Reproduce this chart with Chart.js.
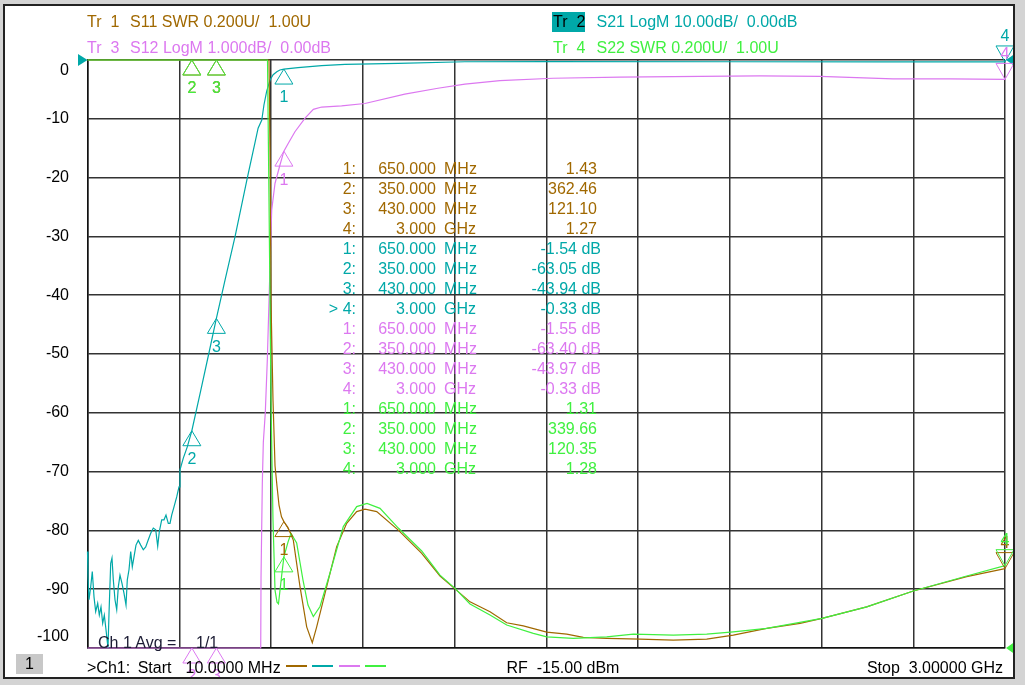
<!DOCTYPE html>
<html><head><meta charset="utf-8">
<script src="https://cdn.jsdelivr.net/npm/chart.js@4.4.0/dist/chart.umd.min.js"></script>
<style>
html,body{margin:0;padding:0;background:#d4d4d4;width:1025px;height:685px;overflow:hidden;font-family:"Liberation Sans",Arial,sans-serif;}
#panel{position:absolute;left:3px;top:4px;width:1012px;height:675px;box-sizing:border-box;border:2px solid #222;background:#fff;overflow:hidden;}
#c{position:absolute;left:-5px;top:-6px;}
#layer{position:absolute;left:-5px;top:-6px;width:1025px;height:685px;}
.t{position:absolute;white-space:pre;font-size:16px;line-height:20px;}
</style></head>
<body>
<div id="panel"><canvas id="c" width="1025" height="685"></canvas><div id="layer"></div></div>
<script>
// ---- axes ----
const freqGrid = [10, 309, 608, 907, 1206, 1505, 1804, 2103, 2402, 2701, 3000];
const s21Ticks = [0, -10, -20, -30, -40, -50, -60, -70, -80, -90, -100];

// ---- S21 (LogM 10 dB/div, ref 0 dB at top) ----
const s21Freq = [10, 11.6, 14.9, 20.4, 25.6, 31.2, 36.7, 43.2, 48.5, 54, 59.5, 64.8, 70.3, 76.8, 80.1, 85.6, 89.8, 94.1, 99.6, 105.2, 110.4, 115.9, 122.4, 129, 135.5, 139.7, 145.2, 150.8, 156, 161.5, 168, 175.5, 183.4, 191.8, 199.7, 208.1, 216, 224.4, 232.3, 238.8, 244, 251.8, 259.3, 265.8, 273.3, 278.9, 284.4, 291.9, 300.7, 308.2, 311.4, 322.2, 335.2, 350, 377, 405, 430, 460, 491, 531, 556, 566, 578, 585, 594, 605, 615, 627, 637, 650, 696, 773, 849, 1022, 1240, 1507, 2104, 2600, 3000];
const s21Val = [-83.6, -87.9, -91.8, -89.6, -87.0, -91.3, -93.8, -92.4, -94.4, -93.0, -95.8, -94.4, -96.9, -100, -94.1, -85.6, -84.7, -88.4, -91.8, -93.5, -89.6, -87.6, -89.0, -90.7, -92.7, -88.4, -86.7, -83.6, -86.2, -84.5, -82.5, -81.7, -82.5, -83.3, -82.8, -81.6, -80.5, -79.6, -79.9, -82.7, -80.2, -78.2, -78.2, -77.4, -78.8, -78.8, -77.4, -76.0, -74.3, -72.6, -69.7, -67.7, -65.8, -63.05, -56.7, -50.0, -43.94, -37.0, -30.0, -20.0, -14.0, -11.6, -10.2, -7.65, -5.3, -3.4, -2.5, -2.0, -1.7, -1.54, -1.3, -0.97, -0.74, -0.57, -0.30, -0.29, -0.30, -0.31, -0.33];

// ---- S12 (LogM 1 dB/div, ref 0 dB at top) ----
const s12Freq = [10, 100, 200, 300, 350, 430, 500, 550, 570, 574.5, 575.5, 579.7, 583, 589.4, 596, 604.8, 610.3, 621, 637, 650, 664, 686, 719, 746, 773, 838, 914, 1044, 1152, 1240, 1354, 1527, 1745, 2006, 2201, 2397, 2635, 2821, 3000];
const s12Val = [-90, -86, -80, -70, -63.40, -43.97, -28, -17, -12, -10.4, -8.8, -7.2, -6.5, -6.0, -5.1, -3.5, -2.55, -2.1, -1.79, -1.55, -1.42, -1.22, -0.99, -0.84, -0.80, -0.78, -0.74, -0.58, -0.48, -0.41, -0.35, -0.31, -0.29, -0.28, -0.27, -0.28, -0.32, -0.32, -0.33];

// ---- S11 (SWR 0.2 U/div, ref 1.00 U at bottom) ----
const s11Freq = [10, 100, 200, 300, 350, 430, 500, 560, 590, 598, 601.5, 604.8, 608, 614.6, 621.1, 627.6, 634.1, 642.2, 650, 663.4, 680.7, 702.5, 724.3, 742.6, 756.9, 789.5, 822.1, 854.7, 887.3, 914.3, 952.5, 1022.9, 1099.1, 1158.8, 1207.6, 1256.5, 1321.7, 1376.1, 1430.2, 1506.5, 1571.7, 1625.7, 1702, 1810.5, 1919, 2027.9, 2114.6, 2223.4, 2332, 2403.6, 2549.3, 2701.2, 2875.2, 3000];
const s11Val = [45, 90, 160, 290, 362.46, 121.10, 30, 9, 4.2, 3.3, 3.0, 2.69, 2.18, 1.84, 1.62, 1.55, 1.486, 1.446, 1.43, 1.41, 1.367, 1.209, 1.072, 1.018, 1.072, 1.209, 1.345, 1.424, 1.464, 1.472, 1.464, 1.401, 1.322, 1.245, 1.201, 1.157, 1.123, 1.086, 1.075, 1.054, 1.047, 1.036, 1.033, 1.030, 1.027, 1.030, 1.044, 1.067, 1.084, 1.101, 1.140, 1.194, 1.243, 1.27];

// ---- S22 (SWR 0.2 U/div, ref 1.00 U at bottom) ----
const s22Freq = [10, 100, 200, 300, 350, 430, 500, 560, 590, 596.6, 601.5, 608, 614.5, 621.1, 627.6, 632.4, 642.9, 650, 663.4, 673.2, 691.7, 712.3, 728.6, 745.9, 767.7, 800.3, 843.6, 887.3, 920.9, 963.2, 1022.9, 1099.1, 1158.8, 1207.6, 1256.5, 1321.7, 1376.1, 1462.9, 1506.5, 1593.2, 1702, 1788.7, 1919, 2027.9, 2114.6, 2223.4, 2403.6, 2549.3, 2701.2, 2875.2, 3000];
const s22Val = [40, 85, 150, 270, 339.66, 120.35, 28, 8.5, 4.0, 3.0, 2.52, 1.84, 1.435, 1.197, 1.156, 1.150, 1.248, 1.31, 1.36, 1.39, 1.357, 1.231, 1.146, 1.107, 1.141, 1.255, 1.413, 1.481, 1.492, 1.475, 1.408, 1.330, 1.248, 1.203, 1.150, 1.112, 1.078, 1.050, 1.038, 1.033, 1.038, 1.047, 1.044, 1.047, 1.055, 1.067, 1.101, 1.140, 1.194, 1.245, 1.28];

// ---- markers ----
const markerFreq = [650, 350, 430, 3000];
const s11Mk = [1.43, 362.46, 121.10, 1.27];
const s21Mk = [-1.54, -63.05, -43.94, -0.33];
const s12Mk = [-1.55, -63.40, -43.97, -0.33];
const s22Mk = [1.31, 339.66, 120.35, 1.28];
const activeMarker = 3;

const COL = {brown:'#a06800', teal:'#00a8a8', mag:'#dc78f0', green:'#40f040'};
const FONT = '"Liberation Sans", Arial, sans-serif';

const clamp = (v, lo, hi) => Math.min(hi, Math.max(lo, v));
const traces = [
  {name:'S11', freq:s11Freq, val:s11Val, mk:s11Mk, color:COL.brown, axis:'ySWR', lo:1, hi:3, order:1, unit:''},
  {name:'S21', freq:s21Freq, val:s21Val, mk:s21Mk, color:COL.teal, axis:'y', lo:-100, hi:0, order:3, unit:' dB'},
  {name:'S12', freq:s12Freq, val:s12Val, mk:s12Mk, color:COL.mag, axis:'yS12', lo:-10, hi:0, order:2, unit:' dB'},
  {name:'S22', freq:s22Freq, val:s22Val, mk:s22Mk, color:COL.green, axis:'ySWR', lo:1, hi:3, order:0, unit:''}
];

const datasets = traces.map(t => ({
  label: t.name,
  data: t.freq.map((f, i) => ({x: f, y: clamp(t.val[i], t.lo, t.hi)})),
  borderColor: t.color, borderWidth: 1.2, pointRadius: 0, tension: 0,
  yAxisID: t.axis, order: t.order, clip: 4
}));

const overlay = {
  id: 'overlay',
  afterDatasetsDraw(chart) {
    const ctx = chart.ctx, a = chart.chartArea, xs = chart.scales.x, ys = chart.scales.y;
    ctx.save();
    // y tick labels (S21 scale, end labels held inside the grid like the analyser)
    ctx.font = '16px ' + FONT; ctx.fillStyle = '#000'; ctx.textAlign = 'right'; ctx.textBaseline = 'middle';
    ys.ticks.forEach(t => {
      let py = ys.getPixelForValue(t.value);
      py = Math.min(Math.max(py, a.top + 10.5), a.bottom - 11.5);
      ctx.fillText(String(t.value), 69, py);
    });
    // reference position arrows
    const yRef = ys.getPixelForValue(0);
    ctx.fillStyle = COL.teal;
    ctx.beginPath(); ctx.moveTo(78, yRef - 6); ctx.lineTo(a.left, yRef); ctx.lineTo(78, yRef + 6); ctx.closePath(); ctx.fill();
    ctx.beginPath(); ctx.moveTo(a.right + 1, yRef); ctx.lineTo(1016, yRef - 7); ctx.lineTo(1016, yRef + 7); ctx.closePath(); ctx.fill();
    const ySwrRef = chart.scales.ySWR.getPixelForValue(1);
    ctx.fillStyle = COL.green;
    ctx.beginPath(); ctx.moveTo(a.right + 1, ySwrRef); ctx.lineTo(1016, ySwrRef - 7); ctx.lineTo(1016, ySwrRef + 7); ctx.closePath(); ctx.fill();
    // markers
    ctx.lineWidth = 1; ctx.textAlign = 'center';
    [1, 2, 0, 3].forEach(ti => {
      const t = traces[ti], sc = chart.scales[t.axis];
      ctx.strokeStyle = t.color; ctx.fillStyle = t.color;
      markerFreq.forEach((f, i) => {
        const px = xs.getPixelForValue(f), py = sc.getPixelForValue(clamp(t.mk[i], t.lo, t.hi));
        ctx.beginPath();
        if (i === activeMarker) {
          ctx.moveTo(px, py); ctx.lineTo(px - 9, py - 16); ctx.lineTo(px + 9, py - 16); ctx.closePath(); ctx.stroke();
          ctx.fillText(String(i + 1), px, py - 25);
        } else {
          ctx.moveTo(px, py); ctx.lineTo(px - 9, py + 15); ctx.lineTo(px + 9, py + 15); ctx.closePath(); ctx.stroke();
          ctx.fillText(String(i + 1), px, py + 29);
        }
      });
    });
    ctx.restore();
  }
};

const gridStyle = {color: '#333', lineWidth: 1.5, drawTicks: false};
new Chart(document.getElementById('c'), {
  type: 'line',
  data: {datasets},
  plugins: [overlay],
  options: {
    responsive: false, animation: false, events: [],
    layout: {padding: {left: 87.5, top: 60, right: 20, bottom: 37}},
    plugins: {legend: {display: false}, tooltip: {enabled: false}},
    scales: {
      x: {type: 'linear', min: 10, max: 3000, ticks: {display: false},
          afterBuildTicks: s => { s.ticks = freqGrid.map(v => ({value: v})); },
          grid: gridStyle, border: {display: true, color: '#111', width: 1.5}},
      y: {type: 'linear', position: 'left', min: -100, max: 0, ticks: {display: false},
          afterBuildTicks: s => { s.ticks = s21Ticks.map(v => ({value: v})); },
          grid: gridStyle, border: {display: true, color: '#111', width: 1.5}},
      yS12: {type: 'linear', display: false, min: -10, max: 0},
      ySWR: {type: 'linear', display: false, min: 1, max: 3}
    }
  }
});

// ---- text layer ----
const layer = document.getElementById('layer');
function put(txt, x, yc, color, align) {
  const d = document.createElement('div');
  d.className = 't'; d.textContent = txt; d.style.color = color;
  d.style.top = (yc - 9.8) + 'px';
  if (align === 'right') d.style.right = (1025 - x) + 'px'; else d.style.left = x + 'px';
  layer.appendChild(d); return d;
}
function box(x, y, w, h, bg) {
  const d = document.createElement('div');
  d.style.cssText = 'position:absolute;left:' + x + 'px;top:' + y + 'px;width:' + w + 'px;height:' + h + 'px;background:' + bg;
  layer.appendChild(d);
}
// header
put('Tr  1', 87, 21.7, COL.brown); put('S11 SWR 0.200U/  1.00U', 130, 21.7, COL.brown);
put('Tr  3', 87, 48, COL.mag);   put('S12 LogM 1.000dB/  0.00dB', 130, 48, COL.mag);
box(552, 12, 33, 20, COL.teal);
put('Tr  2', 553, 22, '#000');   put('S21 LogM 10.00dB/  0.00dB', 596.5, 22, COL.teal);
put('Tr  4', 553, 48, COL.green); put('S22 SWR 0.200U/  1.00U', 596.5, 48, COL.green);

// marker table
let row = 0;
[0, 1, 2, 3].forEach(ti => {
  const t = traces[ti];
  markerFreq.forEach((f, i) => {
    const yc = 169 + 20 * row;
    const idx = (ti === 1 && i === activeMarker ? '> ' : '') + (i + 1) + ':';
    put(idx, 356, yc, t.color, 'right');
    put(f >= 1000 ? (f / 1000).toFixed(3) : f.toFixed(3), 436, yc, t.color, 'right');
    put(f >= 1000 ? 'GHz' : 'MHz', 444, yc, t.color);
    put(t.mk[i].toFixed(2) + t.unit, t.unit ? 601 : 597, yc, t.color, 'right');
    row++;
  });
});

// footer
put('Ch 1 Avg =', 98, 642.5, '#1c1c34'); put('1/1', 196, 642.5, '#1c1c34');
box(16, 654, 27, 20, '#c8c8c8');
put('1', 25, 664, '#000');
put('>Ch1:', 87, 667.5, '#000'); put('Start', 137.7, 667.5, '#000'); put('10.0000 MHz', 185.5, 667.5, '#000');
[[286, COL.brown], [312, COL.teal], [338.5, COL.mag], [365, COL.green]].forEach(p => box(p[0], 665, 21, 2, p[1]));
put('RF  -15.00 dBm', 506.5, 667.5, '#000');
put('Stop  3.00000 GHz', 1003, 667.5, '#000', 'right');
</script>
</body></html>
